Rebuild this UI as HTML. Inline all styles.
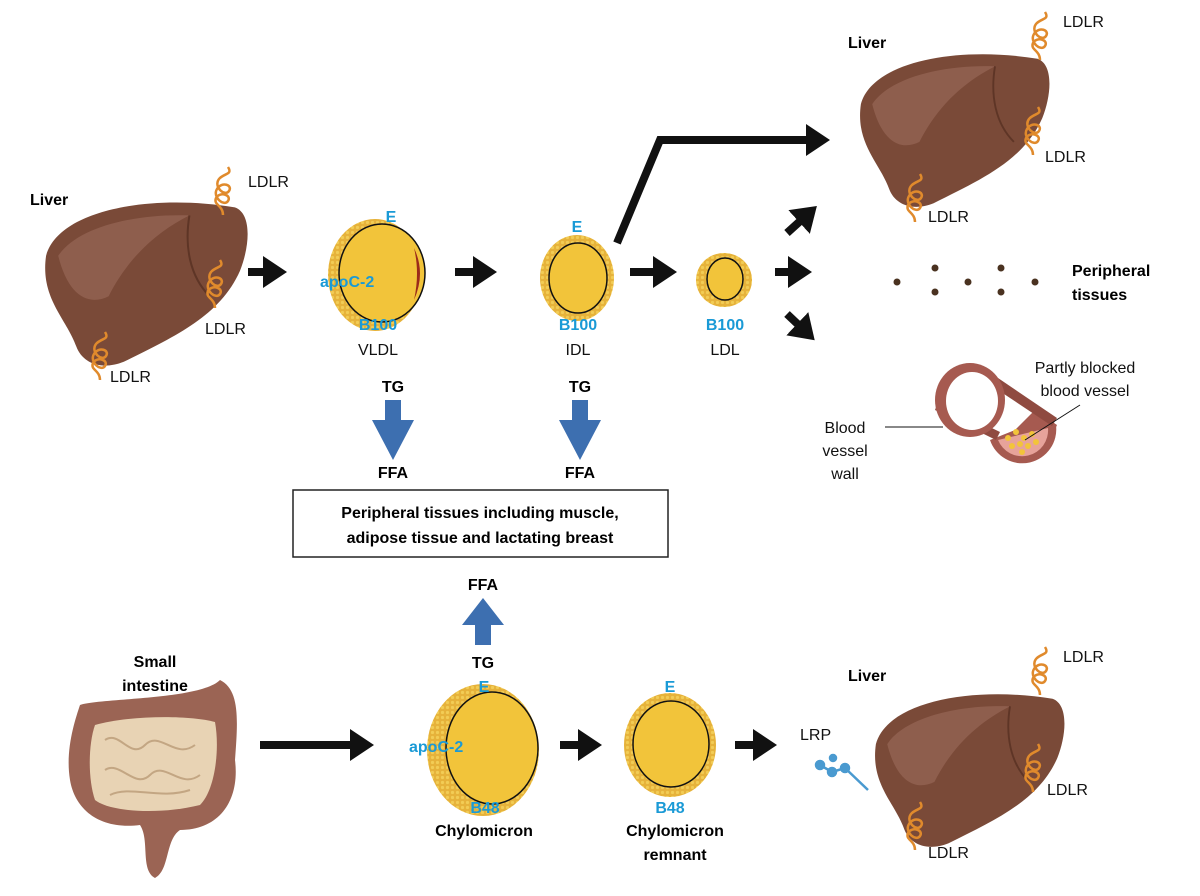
<!DOCTYPE html>
<html><head><meta charset="utf-8"><style>
body{margin:0;background:#fff}
svg{display:block}
text{font-family:"Liberation Sans",Arial,sans-serif}
.b{font-weight:bold}
.c{fill:#1a9ad6;font-weight:bold;font-size:16px}
.t{font-size:16px;fill:#111}
</style></head><body>
<svg width="1200" height="896" viewBox="0 0 1200 896" xmlns="http://www.w3.org/2000/svg">
<defs>
<symbol id="liver" viewBox="0 0 210 180">
<path d="M8,70 C20,25 110,8 195,22 C212,28 210,60 200,85 C180,130 135,150 85,175 C62,184 44,176 38,160 C28,132 2,112 8,70 Z" fill="#7a4a38"/>
<path d="M20,70 C40,40 100,28 150,30 C120,45 90,70 70,110 C50,120 30,110 20,70 Z" fill="#946352" opacity="0.8"/>
<path d="M150,30 C145,60 150,90 170,110" stroke="#5e3526" stroke-width="2" fill="none"/>
</symbol>
<symbol id="coil" viewBox="0 0 30 50">
<path d="M15,50 C15,40 5,40 8,33 C12,26 24,30 20,36 C16,42 4,32 9,24 C14,16 25,20 21,26 C17,32 5,22 11,14 C16,8 25,10 20,2" stroke="#e08a2c" stroke-width="2.5" fill="none"/>
</symbol>
<marker id="ah" markerWidth="4" markerHeight="4" refX="1.5" refY="2" orient="auto" markerUnits="strokeWidth"><path d="M0,0 L3,2 L0,4 Z" fill="#111"/></marker>
<pattern id="dots" width="5" height="5" patternUnits="userSpaceOnUse"><rect width="5" height="5" fill="#e6b23a"/><circle cx="2.5" cy="2.5" r="1.6" fill="#f2cc55"/></pattern>
</defs>

<use href="#liver" x="38" y="185" width="212" height="182"/>
<use href="#liver" x="845" y="38" width="215" height="170"/>
<use href="#liver" x="860" y="678" width="215" height="170"/>
<use href="#coil" x="208" y="165" width="30" height="50"/>
<use href="#coil" x="200" y="258" width="30" height="50"/>
<use href="#coil" x="85" y="330" width="30" height="50"/>
<use href="#coil" x="1025" y="10" width="30" height="50"/>
<use href="#coil" x="1018" y="105" width="30" height="50"/>
<use href="#coil" x="900" y="172" width="30" height="50"/>
<use href="#coil" x="1025" y="645" width="30" height="50"/>
<use href="#coil" x="1018" y="742" width="30" height="50"/>
<use href="#coil" x="900" y="800" width="30" height="50"/>

<text x="30" y="205" class="b" font-size="16">Liver</text>
<text x="248" y="187" class="t">LDLR</text>
<text x="205" y="334" class="t">LDLR</text>
<text x="110" y="382" class="t">LDLR</text>
<text x="848" y="48" class="b" font-size="16">Liver</text>
<text x="1063" y="27" class="t">LDLR</text>
<text x="1045" y="162" class="t">LDLR</text>
<text x="928" y="222" class="t">LDLR</text>
<text x="848" y="681" class="b" font-size="16">Liver</text>
<text x="1063" y="662" class="t">LDLR</text>
<text x="1047" y="795" class="t">LDLR</text>
<text x="928" y="858" class="t">LDLR</text>
<text x="800" y="740" class="t">LRP</text>
<g stroke="#4a9ad0" stroke-width="2.5" fill="#4a9ad0"><path d="M820,765 L832,772 L845,768 L868,790" fill="none"/><circle cx="820" cy="765" r="4"/><circle cx="832" cy="772" r="4"/><circle cx="845" cy="768" r="4"/><circle cx="833" cy="758" r="3"/></g>

<ellipse cx="375" cy="275" rx="47" ry="56" fill="url(#dots)"/>
<ellipse cx="382" cy="273" rx="43" ry="49" fill="#f2c43a" stroke="#111" stroke-width="1.5"/>
<path d="M414,248 Q426,273 414,300 Q420,273 414,248Z" fill="#9b2b1a"/>
<ellipse cx="577" cy="278" rx="37" ry="43" fill="url(#dots)"/>
<ellipse cx="578" cy="278" rx="29" ry="35" fill="#f2c43a" stroke="#111" stroke-width="1.5"/>
<ellipse cx="724" cy="280" rx="28" ry="27" fill="url(#dots)"/>
<ellipse cx="725" cy="279" rx="18" ry="21" fill="#f2c43a" stroke="#111" stroke-width="1.5"/>
<ellipse cx="483" cy="750" rx="56" ry="66" fill="url(#dots)"/>
<ellipse cx="492" cy="748" rx="46" ry="56" fill="#f2c43a" stroke="#111" stroke-width="1.5"/>
<ellipse cx="670" cy="745" rx="46" ry="52" fill="url(#dots)"/>
<ellipse cx="671" cy="744" rx="38" ry="43" fill="#f2c43a" stroke="#111" stroke-width="1.5"/>

<text x="391" y="222" class="c" text-anchor="middle">E</text>
<text x="320" y="287" class="c">apoC-2</text>
<text x="378" y="330" class="c" text-anchor="middle">B100</text>
<text x="378" y="355" class="t" text-anchor="middle">VLDL</text>
<text x="577" y="232" class="c" text-anchor="middle">E</text>
<text x="578" y="330" class="c" text-anchor="middle">B100</text>
<text x="578" y="355" class="t" text-anchor="middle">IDL</text>
<text x="725" y="330" class="c" text-anchor="middle">B100</text>
<text x="725" y="355" class="t" text-anchor="middle">LDL</text>
<text x="484" y="692" class="c" text-anchor="middle">E</text>
<text x="409" y="752" class="c">apoC-2</text>
<text x="485" y="813" class="c" text-anchor="middle">B48</text>
<text x="484" y="836" class="b" font-size="16" text-anchor="middle">Chylomicron</text>
<text x="670" y="692" class="c" text-anchor="middle">E</text>
<text x="670" y="813" class="c" text-anchor="middle">B48</text>
<text x="675" y="836" class="b" font-size="16" text-anchor="middle">Chylomicron</text>
<text x="675" y="860" class="b" font-size="16" text-anchor="middle">remnant</text>

<g stroke="#111" stroke-width="8" marker-end="url(#ah)" fill="none">
<line x1="248" y1="272" x2="275" y2="272"/>
<line x1="455" y1="272" x2="485" y2="272"/>
<line x1="630" y1="272" x2="665" y2="272"/>
<line x1="775" y1="272" x2="800" y2="272"/>
<line x1="787" y1="233" x2="808" y2="214"/>
<line x1="787" y1="314" x2="806" y2="332"/>
<polyline points="617,243 660,140 818,140"/>
<line x1="260" y1="745" x2="362" y2="745"/>
<line x1="560" y1="745" x2="590" y2="745"/>
<line x1="735" y1="745" x2="765" y2="745"/>
</g>

<g fill="#3d6fb0">
<path d="M385,400 H401 V420 H414 L393,460 L372,420 H385Z"/>
<path d="M572,400 H588 V420 H601 L580,460 L559,420 H572Z"/>
<path d="M475,645 H491 V625 H504 L483,598 L462,625 H475Z"/>
</g>
<text x="393" y="392" class="b" font-size="16" text-anchor="middle">TG</text>
<text x="393" y="478" class="b" font-size="16" text-anchor="middle">FFA</text>
<text x="580" y="392" class="b" font-size="16" text-anchor="middle">TG</text>
<text x="580" y="478" class="b" font-size="16" text-anchor="middle">FFA</text>
<text x="483" y="590" class="b" font-size="16" text-anchor="middle">FFA</text>
<text x="483" y="668" class="b" font-size="16" text-anchor="middle">TG</text>

<rect x="293" y="490" width="375" height="67" fill="#fff" stroke="#222" stroke-width="1.5"/>
<text x="480" y="518" class="b" font-size="16" text-anchor="middle">Peripheral tissues including muscle,</text>
<text x="480" y="543" class="b" font-size="16" text-anchor="middle">adipose tissue and lactating breast</text>

<g fill="#4a3220"><circle cx="897" cy="282" r="3.5"/><circle cx="935" cy="268" r="3.5"/><circle cx="935" cy="292" r="3.5"/><circle cx="968" cy="282" r="3.5"/><circle cx="1001" cy="268" r="3.5"/><circle cx="1001" cy="292" r="3.5"/><circle cx="1035" cy="282" r="3.5"/></g>
<text x="1072" y="276" class="b" font-size="16">Peripheral</text>
<text x="1072" y="300" class="b" font-size="16">tissues</text>

<!-- vessel -->
<g>
<path d="M1005,440 A34,34 0 0 0 1057,425 L1035,410 Z" fill="#a65a50"/>
<path d="M990,440 A34,34 0 0 0 1056,425 L1045,418 L990,440 Z" fill="#a65a50"/>
<path d="M998,440 A26,26 0 0 0 1048,428 Z" fill="#e7a39a"/>
<path d="M938,402 L1000,432 L996,440 L935,410Z" fill="#8f4a40"/>
<path d="M998,378 L1057,418 L1052,426 L995,388Z" fill="#8f4a40"/>
<ellipse cx="970" cy="400" rx="35" ry="37" fill="#a65a50"/>
<ellipse cx="972" cy="401" rx="26" ry="29" fill="#fff"/>
<g fill="#f2c43a"><circle cx="1008" cy="438" r="3"/><circle cx="1016" cy="432" r="3"/><circle cx="1024" cy="438" r="3"/><circle cx="1032" cy="434" r="3"/><circle cx="1012" cy="446" r="3"/><circle cx="1020" cy="444" r="3"/><circle cx="1028" cy="446" r="3"/><circle cx="1036" cy="442" r="3"/><circle cx="1022" cy="452" r="3"/></g>
</g>
<line x1="885" y1="427" x2="943" y2="427" stroke="#111" stroke-width="1"/>
<line x1="1025" y1="440" x2="1080" y2="405" stroke="#111" stroke-width="1"/>
<text x="845" y="433" class="t" text-anchor="middle">Blood</text>
<text x="845" y="456" class="t" text-anchor="middle">vessel</text>
<text x="845" y="479" class="t" text-anchor="middle">wall</text>
<text x="1085" y="373" class="t" text-anchor="middle">Partly blocked</text>
<text x="1085" y="396" class="t" text-anchor="middle">blood vessel</text>

<!-- intestine -->
<text x="155" y="667" class="b" font-size="16" text-anchor="middle">Small</text>
<text x="155" y="691" class="b" font-size="16" text-anchor="middle">intestine</text>
<path d="M80,705 C100,698 200,700 220,680 C240,690 238,720 235,760 C240,800 220,830 180,830 C165,840 170,870 155,878 C140,870 150,840 140,825 C100,830 75,810 70,780 C65,750 75,720 80,705Z" fill="#9b6454"/>
<path d="M95,725 C130,715 190,715 215,722 C220,750 215,790 200,805 C160,815 110,812 95,800 C88,780 88,745 95,725Z" fill="#e8d3b4"/>
<g stroke="#c3a683" stroke-width="2" fill="none"><path d="M105,740 C120,730 130,760 145,745 C160,730 175,760 195,745"/><path d="M105,770 C120,760 135,790 150,775 C165,760 180,790 200,775"/><path d="M110,795 C130,785 160,800 190,790"/></g>
</svg>
</body></html>
